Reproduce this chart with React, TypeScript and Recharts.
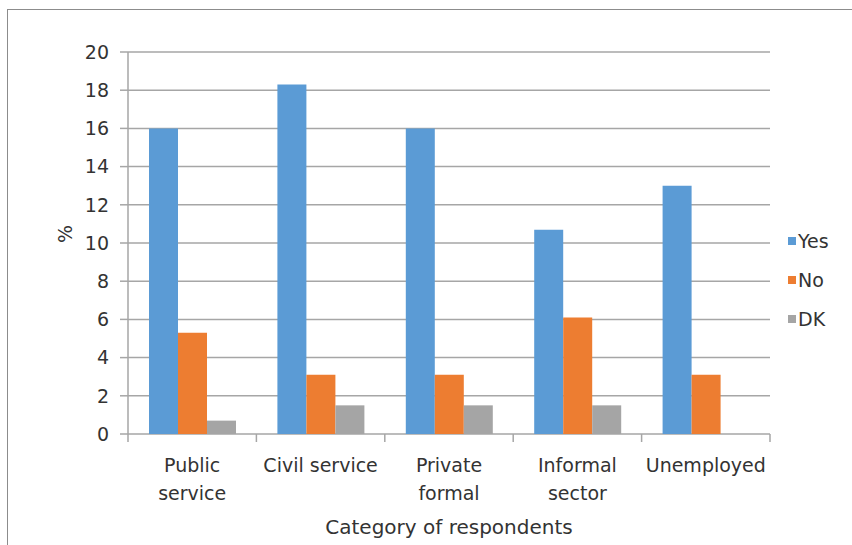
import React from 'react'
import {
  BarChart,
  Bar,
  XAxis,
  YAxis,
  CartesianGrid,
} from 'recharts'

const categories = ['Public service', 'Civil service', 'Private formal', 'Informal sector', 'Unemployed']
const categoryLines = [['Public', 'service'], ['Civil service'], ['Private', 'formal'], ['Informal', 'sector'], ['Unemployed']]
const yesValues = [16.0, 18.3, 16.0, 10.7, 13.0]
const noValues = [5.3, 3.1, 3.1, 6.1, 3.1]
const dkValues = [0.7, 1.5, 1.5, 1.5, 0]
const yTicks = [0, 2, 4, 6, 8, 10, 12, 14, 16, 18, 20]

const SERIES = [
  { key: 'yes', name: 'Yes', color: '#5B9BD5' },
  { key: 'no', name: 'No', color: '#ED7D31' },
  { key: 'dk', name: 'DK', color: '#A5A5A5' },
]

const FONT = '"DejaVu Sans", sans-serif'
const TEXT = '#333333'
const GRID = '#a6a6a6'

const data = categories.map((c, i) => ({
  category: c,
  yes: yesValues[i],
  no: noValues[i],
  dk: dkValues[i],
}))

// label under each category, plus Excel-style tick marks on the category boundaries
function CategoryTick({ x, y, index, payload }: any) {
  const lines = categoryLines[index] || []
  const half = payload?.offset ?? 0
  const isLast = index === categories.length - 1
  return (
    <g>
      <line x1={x - half} x2={x - half} y1={y} y2={y + 8} stroke={GRID} strokeWidth={1.5} />
      {isLast && <line x1={x + half} x2={x + half} y1={y} y2={y + 8} stroke={GRID} strokeWidth={1.5} />}
      <text x={x} y={y} textAnchor="middle" fill={TEXT} fontSize={19} fontFamily={FONT}>
        {lines.map((l, i) => (
          <tspan key={i} x={x} dy={i === 0 ? 38 : 28}>
            {l}
          </tspan>
        ))}
      </text>
    </g>
  )
}

function Legend() {
  return (
    <div style={{ position: 'absolute', left: 788, top: 229, fontFamily: FONT, fontSize: 19, color: TEXT }}>
      {SERIES.map((s) => (
        <div key={s.key} style={{ display: 'flex', alignItems: 'center', height: 24, marginBottom: 15 }}>
          <span style={{ width: 8, height: 8, background: s.color, marginRight: 2 }} />
          <span>{s.name}</span>
        </div>
      ))}
    </div>
  )
}

export default function App() {
  return (
    <div style={{ position: 'absolute', left: 0, top: 0, width: 852, height: 545, background: '#fff', overflow: 'hidden' }}>
      <div style={{ position: 'absolute', left: 7, top: 9, width: 860, height: 560, border: '1.5px solid #8c8c8c' }} />
      <BarChart
        width={852}
        height={545}
        data={data}
        margin={{ top: 52, right: 82, bottom: 0, left: 0 }}
        barCategoryGap={21}
        barGap={0}
      >
        <CartesianGrid vertical={false} stroke={GRID} strokeWidth={1.5} />
        <XAxis
          dataKey="category"
          height={111}
          axisLine={false}
          tickLine={false}
          tickSize={0}
          tickMargin={0}
          interval={0}
          tick={<CategoryTick />}
        />
        <YAxis
          width={128}
          domain={[0, 20]}
          ticks={yTicks}
          tickSize={8}
          tickMargin={11}
          stroke={GRID}
          strokeWidth={1.5}
          tick={{ fill: TEXT, fontSize: 19, fontFamily: FONT }}
          label={{ value: '%', angle: -90, position: 'insideLeft', offset: 65, fill: TEXT, fontSize: 19, fontFamily: FONT }}
        />
        {SERIES.map((s) => (
          <Bar key={s.key} dataKey={s.key} name={s.name} fill={s.color} isAnimationActive={false} />
        ))}
      </BarChart>
      <div
        style={{
          position: 'absolute',
          left: 128,
          width: 642,
          top: 515,
          textAlign: 'center',
          fontFamily: FONT,
          fontSize: 20,
          color: TEXT,
        }}
      >
        Category of respondents
      </div>
      <Legend />
    </div>
  )
}
